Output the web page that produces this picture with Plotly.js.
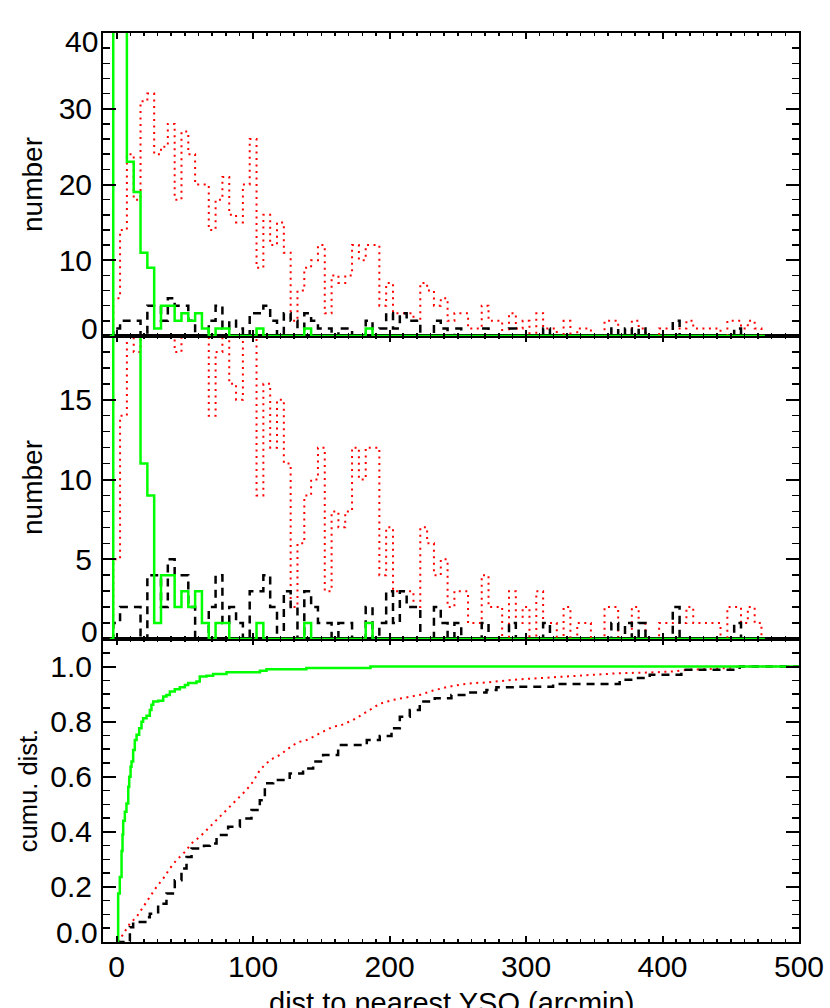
<!DOCTYPE html>
<html>
<head>
<meta charset="utf-8">
<script src="https://cdn.plot.ly/plotly-3.0.1.min.js"></script>
<style>
  html, body { margin: 0; padding: 0; background: #fff; }
  #chart { width: 830px; height: 1008px; }
</style>
</head>
<body>
<div id="chart"></div>
<script>
// 5 arcmin histogram bins (centres)
var binCenters = [
  0, 5, 10, 15, 20, 25, 30, 35, 40, 45, 50, 55, 60, 65, 70, 75, 80, 85, 90, 95,
  100, 105, 110, 115, 120, 125, 130, 135, 140, 145, 150, 155, 160, 165, 170, 175, 180, 185, 190, 195,
  200, 205, 210, 215, 220, 225, 230, 235, 240, 245, 250, 255, 260, 265, 270, 275, 280, 285, 290, 295,
  300, 305, 310, 315, 320, 325, 330, 335, 340, 345, 350, 355, 360, 365, 370, 375, 380, 385, 390, 395,
  400, 405, 410, 415, 420, 425, 430, 435, 440, 445, 450, 455, 460, 465, 470, 475
];

// counts per bin
var greenCounts = [
  44, 43, 23, 19, 11, 9, 1, 4, 4, 2, 3, 2, 3, 1, 0, 1, 1, 0, 0, 0,
  0, 1, 0, 0, 0, 0, 0, 0, 1, 0, 0, 0, 0, 0, 0, 0, 0, 1, 0, 0,
  0, 0, 0, 0, 0, 0, 0, 0, 0, 0, 0, 0, 0, 0, 0, 0, 0, 0, 0, 0,
  0, 0, 0, 0, 0, 0, 0, 0, 0, 0, 0, 0, 0, 0, 0, 0, 0, 0, 0, 0,
  0, 0, 0, 0, 0, 0, 0, 0, 0, 0, 0, 0, 0, 0, 0, 0
];
var redCounts = [
  5, 14, 24, 18, 31, 32, 24, 25, 28, 18, 27, 24, 20, 20, 14, 18, 21, 16, 15, 20,
  26, 9, 16, 12, 15, 11, 2, 6, 9, 10, 12, 3, 8, 7, 8, 12, 10, 12, 12, 4,
  7, 3, 3, 3, 2, 7, 6, 4, 5, 2, 3, 3, 1, 1, 4, 2, 2, 0, 3, 1,
  2, 0, 3, 1, 1, 0, 2, 0, 1, 1, 0, 0, 2, 2, 0, 0, 2, 1, 0, 0,
  1, 1, 1, 1, 2, 1, 1, 1, 1, 0, 2, 2, 1, 2, 1, 0
];
var blackCounts = [
  1, 2, 2, 2, 0, 4, 4, 2, 5, 4, 4, 2, 0, 0, 2, 4, 1, 2, 1, 0,
  3, 3, 4, 2, 0, 3, 2, 0, 3, 2, 1, 1, 0, 1, 1, 0, 0, 2, 0, 1,
  3, 1, 3, 2, 2, 0, 0, 2, 1, 0, 1, 0, 0, 0, 1, 0, 0, 0, 1, 0,
  0, 0, 0, 1, 0, 0, 0, 0, 0, 0, 0, 0, 0, 1, 0, 1, 0, 1, 0, 0,
  0, 0, 2, 0, 0, 0, 0, 0, 0, 0, 0, 1, 0, 0, 0, 0
];

// cumulative distributions
var greenCumX = [0, 1.1, 2.3, 3.6, 4.3, 4.8, 6.0, 7.2, 8.5, 9.2, 10.2, 10.9, 12.1, 13.3, 14.6, 16.5,
  18.2, 19.4, 21.9, 24.3, 25.5, 26.8, 30.4, 34.1, 36.5, 39.0, 42.6, 46.3, 50.0, 52.4, 58.5,
  60.9, 65.8, 70.7, 80.5, 105, 109.8, 139, 186, 500];
var greenCum = [0, 0.176, 0.236, 0.33, 0.39, 0.44, 0.473, 0.503, 0.564, 0.6, 0.636, 0.655, 0.697, 0.733, 0.752, 0.776,
  0.8, 0.812, 0.821, 0.842, 0.861, 0.873, 0.876, 0.891, 0.897, 0.909, 0.918, 0.925, 0.933, 0.94, 0.946,
  0.964, 0.967, 0.973, 0.979, 0.985, 0.99, 0.995, 1.0, 1.0];

var redCumX = [1.1, 4.8, 9.7, 14.6, 19.4, 24.3, 29.2, 34.1, 39.0, 43.8, 50.0, 54.9, 60.9, 65.8, 70.7,
  75.6, 80.5, 85.4, 90.3, 95.1, 100, 104.9, 109.8, 114.7, 119.6, 124.4, 129.3, 134.2, 139.1, 144.0,
  148.9, 153.8, 158.6, 163.5, 173.3, 183.3, 192.8, 202.6, 212.4, 222.1, 231.9, 241.7, 251.4, 261.2,
  271, 280.7, 290.5, 300.3, 310, 319.8, 329.5, 339.3, 349.1, 358.8, 368.6, 388.1, 407.7, 417.4,
  437, 446.7, 456.5, 500];
var redCum = [0, 0.03, 0.067, 0.091, 0.127, 0.164, 0.2, 0.23, 0.267, 0.297, 0.327, 0.358, 0.382, 0.406, 0.43,
  0.455, 0.479, 0.503, 0.527, 0.552, 0.582, 0.624, 0.649, 0.667, 0.679, 0.697, 0.715, 0.727, 0.733, 0.745,
  0.758, 0.77, 0.782, 0.785, 0.806, 0.836, 0.865, 0.879, 0.888, 0.897, 0.913, 0.925, 0.934, 0.94,
  0.942, 0.948, 0.952, 0.955, 0.958, 0.961, 0.964, 0.966, 0.97, 0.972, 0.976, 0.978, 0.982, 0.988,
  0.991, 0.994, 1.0, 1.0];

var blackCumX = [0, 9.7, 12.1, 21.0, 24.3, 30.4, 36.5, 42.6, 47.5, 51.2, 54.9, 64.0, 68.3, 73.2, 81.7,
  90.3, 98.8, 104.9, 108.6, 114.7, 126.8, 136.6, 144, 151.3, 162.3, 183.3, 192.8, 201.4, 207.5,
  214.8, 222.1, 233.1, 245.3, 256.3, 271, 278.3, 292.9, 319.8, 368.6, 378.4, 390.6, 413.8, 456.5, 500];
var blackCum = [0, 0.054, 0.073, 0.09, 0.103, 0.139, 0.176, 0.224, 0.267, 0.309, 0.339, 0.349, 0.358, 0.388, 0.418,
  0.448, 0.479, 0.515, 0.576, 0.588, 0.612, 0.63, 0.655, 0.679, 0.715, 0.733, 0.748, 0.776, 0.818,
  0.842, 0.873, 0.885, 0.897, 0.906, 0.915, 0.925, 0.927, 0.937, 0.952, 0.958, 0.97, 0.988, 1.0, 1.0];

// y tick labels of each panel
var topTicks = [0, 10, 20, 30, 40];
var midTicks = [0, 5, 10, 15];
var cumTicks = [0, 0.2, 0.4, 0.6, 0.8, 1.0];

var GREEN = '#00ff00', RED = '#ff0000', BLACK = '#000000';
var DOTS = '2px,4.5px', DASHES = '8px,6px';

// pad each histogram with an empty bin on the left so the step starts at the axis
function histX() { return [-5].concat(binCenters); }
function histY(c) { return [0].concat(c); }

function histTraces(xa, ya) {
  return [
    {x: histX(), y: histY(redCounts), xaxis: xa, yaxis: ya, mode: 'lines',
     line: {color: RED, width: 2, dash: DOTS, shape: 'hvh'}},
    {x: histX(), y: histY(blackCounts), xaxis: xa, yaxis: ya, mode: 'lines',
     line: {color: BLACK, width: 2.5, dash: DASHES, shape: 'hvh'}},
    {x: histX(), y: histY(greenCounts), xaxis: xa, yaxis: ya, mode: 'lines',
     line: {color: GREEN, width: 2.5, shape: 'hvh'}}
  ];
}

var data = histTraces('x3', 'y3').concat(histTraces('x2', 'y2')).concat([
  {x: redCumX, y: redCum, xaxis: 'x', yaxis: 'y', mode: 'lines',
   line: {color: RED, width: 2, dash: DOTS}},
  {x: blackCumX, y: blackCum, xaxis: 'x', yaxis: 'y', mode: 'lines',
   line: {color: BLACK, width: 2.5, dash: DASHES, shape: 'hv'}},
  {x: greenCumX, y: greenCum, xaxis: 'x', yaxis: 'y', mode: 'lines',
   line: {color: GREEN, width: 2.5, shape: 'hv'}}
]);

var FAMILY = 'Liberation Sans, Arial, Helvetica, sans-serif';
var TICKFONT = {family: FAMILY, size: 30, color: '#000'};

function xAxis(anchor, labels) {
  return {
    anchor: anchor, range: [-10, 500], tick0: 0, dtick: 100,
    showline: true, linecolor: '#000', linewidth: 2, mirror: 'allticks',
    ticks: 'inside', ticklen: 6, tickwidth: 2, tickcolor: '#000',
    minor: {dtick: 10, ticks: 'inside', ticklen: 3, tickwidth: 1.5, tickcolor: '#000'},
    showgrid: false, zeroline: false, showticklabels: labels,
    tickfont: TICKFONT, ticklabelstandoff: -3
  };
}

// labels at the ends of each y range are drawn as annotations, nudged inside the panel
function tickText(vals, fmt, hideFirst, hideLast) {
  return vals.map(function (v, i) {
    if ((hideFirst && i === 0) || (hideLast && i === vals.length - 1)) return '';
    return fmt ? v.toFixed(1) : String(v);
  });
}

function yAxis(anchor, domain, range, vals, text, minor, title, tsize, standoff) {
  return {
    anchor: anchor, domain: domain, range: range,
    tickmode: 'array', tickvals: vals, ticktext: text,
    showline: true, linecolor: '#000', linewidth: 2, mirror: 'allticks',
    ticks: 'inside', ticklen: 13, tickwidth: 2, tickcolor: '#000',
    minor: {tickmode: 'linear', tick0: 0, dtick: minor, ticks: 'inside', ticklen: 7, tickwidth: 1.5, tickcolor: '#000'},
    showgrid: false, zeroline: false,
    tickfont: TICKFONT, ticklabelstandoff: 3,
    title: {text: title, font: {family: FAMILY, size: tsize, color: '#000'}, standoff: standoff}
  };
}

function edgeLabel(yref, y, text, shift) {
  return {xref: 'paper', yref: yref, x: 0, y: y, text: text, showarrow: false,
          xanchor: 'right', yanchor: 'middle', xshift: -3, yshift: shift,
          font: TICKFONT};
}

var xa1 = xAxis('y', true);
var xa2 = xAxis('y2', false); xa2.matches = 'x';
var xa3 = xAxis('y3', false); xa3.matches = 'x';

var layout = {
  width: 830, height: 1008,
  margin: {l: 103, r: 31, t: 33, b: 66},
  paper_bgcolor: '#fff', plot_bgcolor: '#fff',
  showlegend: false,
  font: {family: FAMILY, color: '#000'},
  xaxis: xa1, xaxis2: xa2, xaxis3: xa3,
  yaxis: yAxis('x', [0, 1/3], [0, 1.1], cumTicks, tickText(cumTicks, true, true, false), 0.05, 'cumu. dist.', 25.5, 5),
  yaxis2: yAxis('x2', [1/3, 2/3], [0, 19], midTicks, tickText(midTicks, false, true, false), 1, 'number', 28, 8),
  yaxis3: yAxis('x3', [2/3, 1], [0, 40], topTicks, tickText(topTicks, false, true, true), 2, 'number', 28, 8),
  annotations: [
    edgeLabel('y3', topTicks[topTicks.length - 1], String(topTicks[topTicks.length - 1]), -8),
    edgeLabel('y3', topTicks[0], String(topTicks[0]), 8),
    edgeLabel('y2', midTicks[0], String(midTicks[0]), 8),
    edgeLabel('y', cumTicks[0], cumTicks[0].toFixed(1), 10),
    // x-axis title sits low, partly below the page edge as in the original
    {xref: 'paper', yref: 'paper', x: 0.5, y: 0, text: 'dist to nearest YSO (arcmin)',
     showarrow: false, xanchor: 'center', yanchor: 'top', yshift: -43,
     font: {family: FAMILY, size: 29, color: '#000'}}
  ]
};

Plotly.newPlot('chart', data, layout, {staticPlot: true});
</script>
</body>
</html>
